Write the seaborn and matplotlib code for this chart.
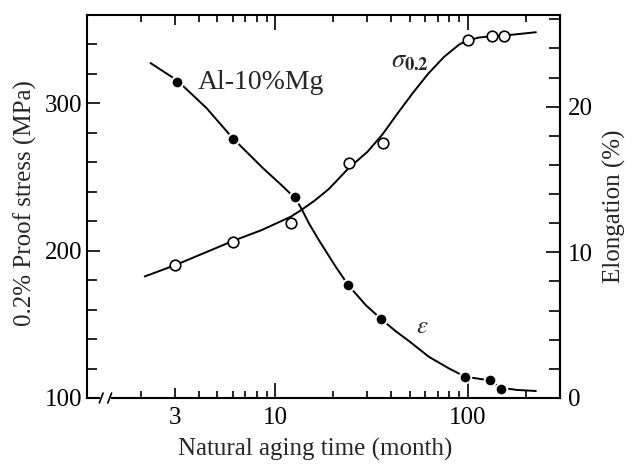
import matplotlib
matplotlib.use("Agg")
import matplotlib.pyplot as plt
import seaborn as sns
import pandas as pd
from matplotlib.ticker import MultipleLocator, FixedLocator, NullFormatter, FixedFormatter
from matplotlib.lines import Line2D
from matplotlib.patches import Rectangle

# ---------------- data ----------------
# 0.2% proof stress, open circles (MPa)
sigma_t = [3, 6, 12, 24, 36, 100, 133, 153]
sigma_v = [190, 206, 219, 259.5, 273, 343, 345.6, 345.6]
# smooth hand-drawn curve through the stress points
sigma_curve_t = [2.1, 3, 4.2, 6, 8.5, 12, 13.6, 16, 19, 24, 30, 36, 43, 52, 62, 75, 90, 100, 114, 133, 153, 225]
sigma_curve_v = [182.5, 190, 198, 206.5, 214, 223, 227.5, 234, 242, 256, 267, 279, 293, 307.5, 320,
                 331.5, 340, 342.8, 344.7, 345.6, 346, 348.3]

# elongation, filled circles (%)
eps_t = [3.1, 6, 12.7, 23.9, 35.5, 96.5, 130, 148]
eps_v = [21.7, 17.8, 13.8, 7.75, 5.4, 1.46, 1.23, 0.6]
eps_curve_t = [2.25, 3.1, 4.4, 6, 8.6, 11, 12.7, 13.6, 15, 16.9, 20.6, 23.9, 29.5, 35.5, 42, 49.5,
               62.6, 79.6, 96.5, 114, 130, 148, 180, 225]
eps_curve_v = [23.0, 21.8, 19.9, 17.85, 15.8, 14.5, 13.7, 13.05, 11.95, 10.8, 9.0, 7.75, 6.37, 5.41,
               4.6, 3.9, 2.83, 2.03, 1.46, 1.32, 1.2, 0.7, 0.55, 0.48]

x_major_ticks = [3, 10, 100]
x_major_labels = ["3", "10", "100"]
x_minor_ticks = [2, 4, 5, 6, 7, 8, 9, 20, 30, 40, 50, 60, 70, 80, 90, 200]
left_major = [100, 200, 300]
right_major = [0, 10, 20]

# ---------------- style ----------------
sns.set_style("ticks")
plt.rcParams["font.family"] = ["Liberation Serif", "DejaVu Serif"]
plt.rcParams["mathtext.fontset"] = "stix"

fig = plt.figure(figsize=(6.41, 4.67), dpi=100)
ax = fig.add_axes([0.1365, 0.1478, 0.7371, 0.8201])
ax.set_xscale("log")
ax2 = ax.twinx()

sns.lineplot(x=sigma_curve_t, y=sigma_curve_v, ax=ax, color="black", linewidth=1.4, zorder=2)
sns.scatterplot(x=sigma_t, y=sigma_v, ax=ax, marker="o", s=58, facecolor="white",
                edgecolor="black", linewidth=1.2, zorder=3)

sns.lineplot(x=eps_curve_t, y=eps_curve_v, ax=ax2, color="black", linewidth=1.4, zorder=2)
sns.scatterplot(x=eps_t, y=eps_v, ax=ax2, marker="o", s=70, color="black",
                edgecolor="white", linewidth=1.4, zorder=3)

# ---------------- axes ----------------
ax.set_xlim(1.06, 300)
ax.set_ylim(100, 360)
ax2.set_ylim(0, 26.3)

ax.xaxis.set_major_locator(FixedLocator(x_major_ticks))
ax.xaxis.set_major_formatter(FixedFormatter(x_major_labels))
ax.xaxis.set_minor_locator(FixedLocator(x_minor_ticks))
ax.xaxis.set_minor_formatter(NullFormatter())
ax.tick_params(axis="x", which="both", direction="in", top=True, bottom=True, width=1.2, colors="black")
ax.tick_params(axis="x", which="major", length=11, pad=6.5, labelsize=18)
ax.tick_params(axis="x", which="minor", length=5)

ax.yaxis.set_major_locator(FixedLocator(left_major))
ax.yaxis.set_minor_locator(MultipleLocator(20))
ax.tick_params(axis="y", which="both", direction="in", width=1.2, colors="black")
ax.tick_params(axis="y", which="major", length=9, pad=4, labelsize=18)
ax.tick_params(axis="y", which="minor", length=7)

ax2.yaxis.set_major_locator(FixedLocator(right_major))
ax2.yaxis.set_minor_locator(MultipleLocator(2))
ax2.tick_params(axis="y", which="both", direction="in", width=1.2, colors="black")
ax2.tick_params(axis="y", which="major", length=10, pad=5.8, labelsize=18)
ax2.tick_params(axis="y", which="minor", length=8)

for s in ax.spines.values():
    s.set_linewidth(1.5)
    s.set_color("black")
for k, s in ax2.spines.items():
    s.set_linewidth(1.5)
    s.set_color("black")
    if k != "right":
        s.set_visible(False)

ax.set_xlabel("Natural aging time (month)", fontsize=18)
ax.set_ylabel("0.2% Proof stress (MPa)", fontsize=18)
ax2.set_ylabel("Elongation (%)", fontsize=18, rotation=90)
ax.xaxis.label.set_verticalalignment("center")
ax.yaxis.label.set_verticalalignment("center")
ax2.yaxis.label.set_verticalalignment("center")
ax.xaxis.set_label_coords(0.481, -0.135)
ax.yaxis.set_label_coords(-0.132, 0.51)
ax2.yaxis.set_label_coords(1.116, 0.50)

# annotations
ax.text(3.96, 310, "Al-10%Mg", fontsize=20, ha="left", va="baseline")
ax.text(39.9, 324.5, r"$\sigma_{\mathbf{0.2}}$", fontsize=19, ha="left", va="baseline")
ax2.text(53.7, 4.45, r"$\varepsilon$", fontsize=18, ha="left", va="baseline")

# axis break on the bottom spine
ax2.add_patch(Rectangle((0.0265, -0.015), 0.0243, 0.03, transform=ax2.transAxes,
                        facecolor="white", edgecolor="none", clip_on=False, zorder=10))
for bx in (0.029, 0.047):
    ax2.add_line(Line2D([bx - 0.004, bx + 0.004], [-0.013, 0.013], transform=ax2.transAxes,
                        color="black", linewidth=1.2, clip_on=False, zorder=11))

# shorter tick for the "3" label
t3 = ax.xaxis.get_major_ticks()[0]
t3.tick1line.set_markersize(7.5)
t3.tick2line.set_markersize(7.5)

fig.savefig("out.png", dpi=100, facecolor="white")
